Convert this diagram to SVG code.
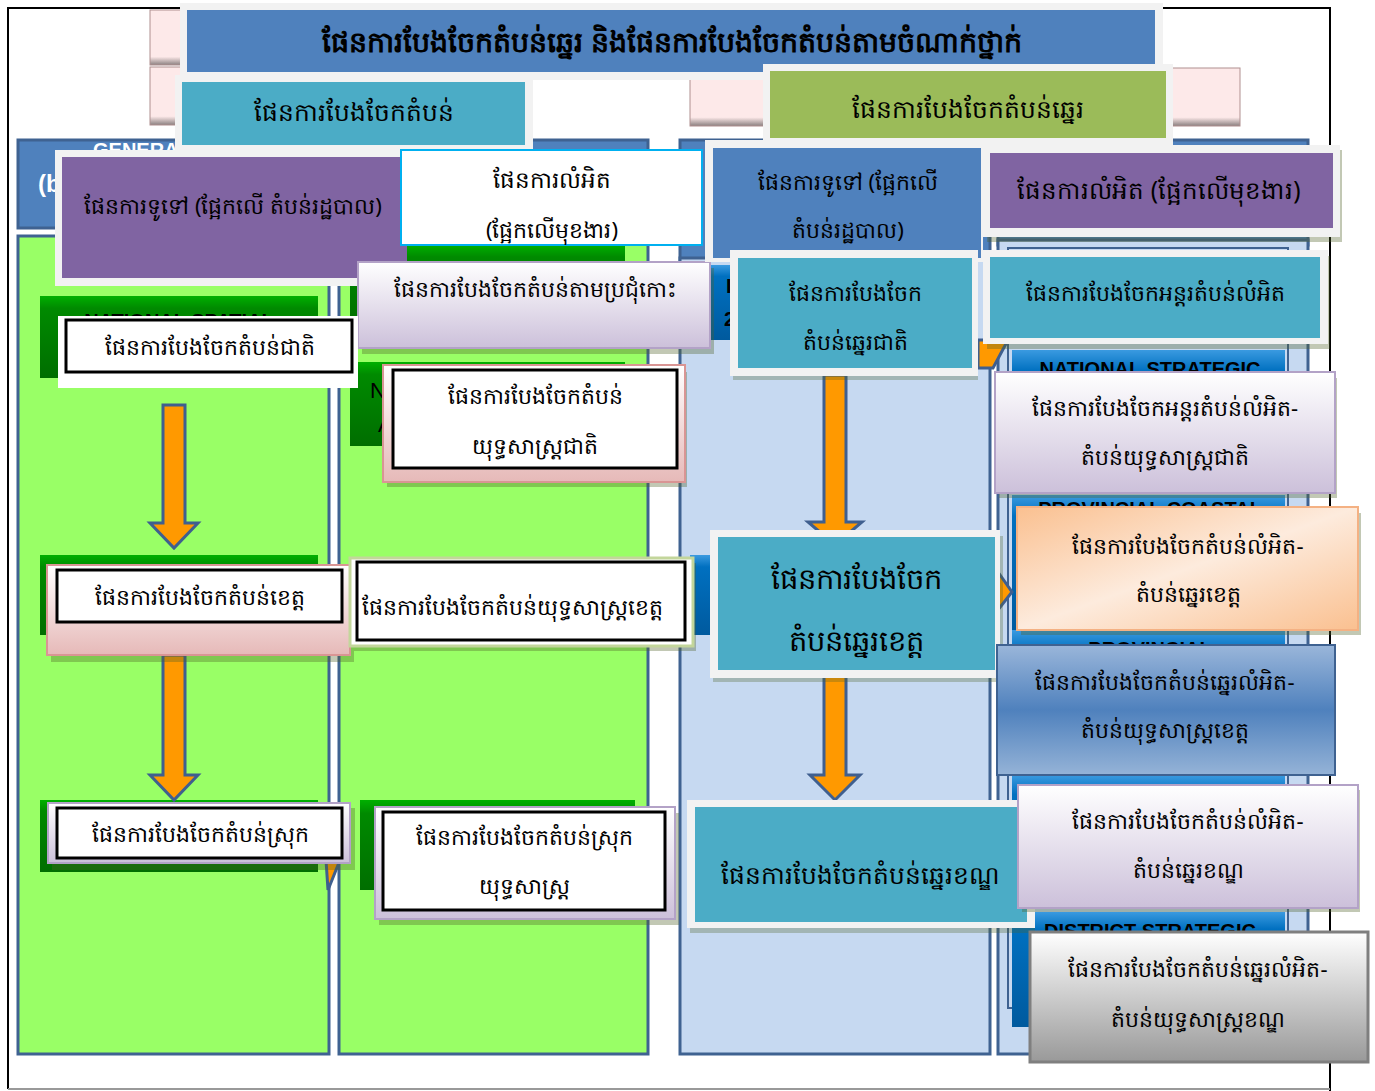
<svg xmlns="http://www.w3.org/2000/svg" width="1375" height="1091" viewBox="0 0 1375 1091">
<defs>
<linearGradient id="lav" x1="0" y1="0" x2="0" y2="1"><stop offset="0" stop-color="#ffffff"/><stop offset="1" stop-color="#ccc0da"/></linearGradient>
<linearGradient id="pink" x1="0" y1="0" x2="0" y2="1"><stop offset="0" stop-color="#ffffff"/><stop offset="1" stop-color="#e6b9b8"/></linearGradient>
<linearGradient id="peach" x1="0" y1="0" x2="1" y2="1"><stop offset="0" stop-color="#fac090"/><stop offset="0.5" stop-color="#fdebdd"/><stop offset="1" stop-color="#fac090"/></linearGradient>
<linearGradient id="blueg" x1="0" y1="0" x2="0" y2="1"><stop offset="0" stop-color="#9ab6da"/><stop offset="0.5" stop-color="#4f81bd"/><stop offset="1" stop-color="#95b3d7"/></linearGradient>
<linearGradient id="grayg" x1="0" y1="0" x2="0" y2="1"><stop offset="0" stop-color="#ffffff"/><stop offset="1" stop-color="#999999"/></linearGradient>
<linearGradient id="greenbev" x1="0" y1="0" x2="0" y2="1"><stop offset="0" stop-color="#00b000"/><stop offset="0.15" stop-color="#008a00"/><stop offset="1" stop-color="#006e00"/></linearGradient>
<linearGradient id="bluebev" x1="0" y1="0" x2="0" y2="1"><stop offset="0" stop-color="#3a9ae0"/><stop offset="0.15" stop-color="#0070c0"/><stop offset="1" stop-color="#005a9e"/></linearGradient>
<linearGradient id="pinkbtn" x1="0" y1="0" x2="0" y2="1"><stop offset="0" stop-color="#fde9e9"/><stop offset="0.85" stop-color="#fde9e9"/><stop offset="1" stop-color="#8a8080"/></linearGradient>
</defs>
<style>
.k{font-family:"Noto Sans","DejaVu Sans",sans-serif;font-size:22px;fill:#000;text-anchor:middle}
.kb{font-family:"Noto Sans","DejaVu Sans",sans-serif;font-size:28.5px;font-weight:bold;fill:#000;text-anchor:middle}
.k25{font-size:25px}
.k29{font-size:29px}
.k23{font-size:23px}
.k245{font-size:24.5px}
.en{font-family:"Liberation Sans",Arial,sans-serif;font-size:20px;font-weight:bold;fill:#000;text-anchor:middle}
.frame{fill:#f2f2f2}
.shadow{fill:#4f6228;opacity:0.35}
.col-g{fill:#99ff66;stroke:#3f6291;stroke-width:3}
.col-b{fill:#c6d9f1;stroke:#3f6291;stroke-width:3}
.hdr{fill:#4f81bd;stroke:#3f6291;stroke-width:3}
.gbev{fill:url(#greenbev)}
.bbev{fill:url(#bluebev)}
.wbox{fill:#fff;stroke:#000;stroke-width:3}
.arrow{fill:#ff9900;stroke:#3f5f8f;stroke-width:3}
</style>

<!-- outer frame -->
<rect x="0" y="0" width="1375" height="1091" fill="#ffffff"/>
<path d="M8 1089 L8 8 L1330 8 L1330 1091" fill="none" stroke="#000" stroke-width="2"/>
<line x1="8" y1="1089" x2="1330" y2="1089" stroke="#999" stroke-width="2"/>

<!-- pink bevel buttons behind header -->
<rect x="150" y="10" width="60" height="55" fill="url(#pinkbtn)" stroke="#b09090"/>
<rect x="150" y="67" width="60" height="58" fill="url(#pinkbtn)" stroke="#b09090"/>
<rect x="690" y="68" width="550" height="58" fill="url(#pinkbtn)" stroke="#b09090"/>

<!-- column backgrounds -->
<g id="columns">
<rect class="hdr" x="18" y="140" width="630" height="88"/>
<text x="38" y="192" font-family="Liberation Sans,sans-serif" font-size="24" font-weight="bold" fill="#fff">(b</text>
<text x="93" y="157" font-family="Liberation Sans,sans-serif" font-size="20" font-weight="bold" fill="#fff">GENERAL</text>
<rect class="col-g" x="18" y="236" width="311" height="818"/>
<rect class="col-g" x="339" y="236" width="309" height="818"/>
<rect class="hdr" x="680" y="140" width="310" height="125"/>
<rect class="col-b" x="680" y="258" width="310" height="796"/>
<rect class="hdr" x="998" y="140" width="310" height="105"/>
<rect class="col-b" x="998" y="240" width="310" height="814"/>
<rect x="1008" y="248" width="280" height="760" fill="#c6d9f1" stroke="#3f6291" stroke-width="2"/>
</g>

<!-- hidden bevel headers -->
<g id="bevels">
<rect class="gbev" x="40" y="296" width="278" height="82"/>
<text class="en" x="179" y="328">NATIONAL SPATIAL</text>
<rect class="gbev" x="40" y="555" width="278" height="80"/>
<rect class="gbev" x="40" y="800" width="278" height="72"/>
<rect class="gbev" x="350" y="245" width="275" height="80"/>
<rect class="gbev" x="350" y="362" width="275" height="84"/>
<text x="370" y="398" font-family="Liberation Sans,sans-serif" font-size="22" fill="#000">N</text>
<text x="378" y="432" font-family="Liberation Sans,sans-serif" font-size="22" fill="#000">A</text>
<rect class="gbev" x="360" y="800" width="275" height="90"/>
<rect class="bbev" x="690" y="555" width="40" height="80"/>
<rect class="bbev" x="705" y="265" width="30" height="75"/>
<text x="726" y="293" font-family="Liberation Sans,sans-serif" font-size="20" font-weight="bold" fill="#000">I</text>
<text x="724" y="326" font-family="Liberation Sans,sans-serif" font-size="20" font-weight="bold" fill="#000">2</text>
<rect class="bbev" x="1012" y="350" width="273" height="140"/>
<text class="en" x="1150" y="376">NATIONAL STRATEGIC</text>
<rect class="bbev" x="1012" y="495" width="273" height="140"/>
<text class="en" x="1150" y="516">PROVINCIAL COASTAL</text>
<rect class="bbev" x="1012" y="630" width="273" height="140"/>
<text class="en" x="1150" y="656">PROVINCIAL</text>
<rect class="bbev" x="1012" y="775" width="273" height="130"/>
<rect class="bbev" x="1012" y="912" width="273" height="115"/>
<text class="en" x="1150" y="938">DISTRICT STRATEGIC</text>
</g>

<!-- connectors -->
<g id="connectors">
<path class="arrow" d="M163 405 H185 V523 H198 L174 548 L150 523 H163 Z"/>
<path class="arrow" d="M163 655 H185 V775 H198 L174 800 L150 775 H163 Z"/>
<path class="arrow" d="M824 375 H846 V522 H862 L835 545 L808 522 H824 Z"/>
<path class="arrow" d="M824 675 H846 V775 H860 L835 800 L810 775 H824 Z"/>
<path class="arrow" d="M978 340 L1008 340 L993 368 L978 368 Z"/>
<path class="arrow" d="M998 572 L1012 592 L998 610 Z"/>
<path class="arrow" d="M326 860 L340 860 L328 890 Z"/>
</g>

<!-- header -->
<g id="title">
<rect class="frame" x="180" y="3" width="983" height="77"/>
<rect x="187" y="10" width="968" height="62" fill="#4f81bd"/>
<text class="kb" x="672" y="52">ផែនការបែងចែកតំបន់ឆ្នេរ និងផែនការបែងចែកតំបន់តាមចំណាក់ថ្នាក់</text>
</g>
<g id="n-zoning">
<rect class="frame" x="175" y="75" width="358" height="75"/>
<rect x="182" y="82" width="343" height="63" fill="#4bacc6"/>
<text class="k k25" x="354" y="121">ផែនការបែងចែកតំបន់</text>
</g>
<g id="n-coastal">
<rect class="shadow" x="770" y="74" width="403" height="78"/>
<rect class="frame" x="763" y="64" width="410" height="82"/>
<rect x="770" y="71" width="396" height="67" fill="#9bbb59"/>
<text class="k k25" x="968" y="118">ផែនការបែងចែកតំបន់ឆ្នេរ</text>
</g>

<!-- column 1/2 nodes -->
<g id="n-general-admin">
<rect class="frame" x="55" y="150" width="352" height="136"/>
<rect x="62" y="157" width="345" height="121" fill="#8064a2"/>
<text class="k" x="233" y="214">ផែនការទូទៅ (ផ្អែកលើ តំបន់រដ្ឋបាល)</text>
</g>
<g id="n-detail-func">
<rect x="401" y="150" width="301" height="95" fill="#fff" stroke="#00b0f0" stroke-width="2"/>
<text class="k k23" x="552" y="188">ផែនការលំអិត</text>
<text class="k" x="552" y="238">(ផ្អែកលើមុខងារ)</text>
</g>
<g id="n-archipelago">
<rect class="shadow" x="362" y="268" width="352" height="86"/>
<rect x="358" y="262" width="352" height="86" fill="url(#lav)" stroke="#b3a2c7" stroke-width="2"/>
<text class="k" x="535" y="297">ផែនការបែងចែកតំបន់តាមប្រជុំកោះ</text>
</g>
<g id="n-national">
<rect x="58" y="316" width="300" height="72" fill="#fff"/>
<rect class="wbox" x="66" y="320" width="286" height="52"/>
<text class="k" x="210" y="355">ផែនការបែងចែកតំបន់ជាតិ</text>
</g>
<g id="n-national-strat">
<rect class="shadow" x="387" y="372" width="300" height="115"/>
<rect x="383" y="365" width="302" height="117" fill="url(#pink)" stroke="#d99594" stroke-width="2"/>
<rect class="wbox" x="393" y="370" width="284" height="98"/>
<text class="k" x="535" y="404">ផែនការបែងចែកតំបន់</text>
<text class="k" x="535" y="454">យុទ្ធសាស្ត្រជាតិ</text>
</g>
<g id="n-province">
<rect class="shadow" x="51" y="570" width="303" height="92"/>
<rect x="47" y="565" width="303" height="90" fill="url(#pink)" stroke="#d99594" stroke-width="2"/>
<rect class="wbox" x="57" y="570" width="285" height="52"/>
<text class="k" x="200" y="605">ផែនការបែងចែកតំបន់ខេត្ត</text>
</g>
<g id="n-province-strat">
<rect class="shadow" x="354" y="563" width="342" height="88"/>
<rect x="350" y="558" width="343" height="88" fill="#fff" stroke="#c3d69b" stroke-width="3"/>
<rect class="wbox" x="357" y="562" width="328" height="78"/>
<text class="k" x="512" y="615">ផែនការបែងចែកតំបន់យុទ្ធសាស្ត្រខេត្ត</text>
</g>
<g id="n-district">
<rect class="shadow" x="52" y="808" width="303" height="62"/>
<rect x="48" y="803" width="302" height="60" fill="url(#lav)" stroke="#b3a2c7" stroke-width="2"/>
<rect class="wbox" x="57" y="808" width="285" height="50"/>
<text class="k" x="200" y="842">ផែនការបែងចែកតំបន់ស្រុក</text>
</g>
<g id="n-district-strat">
<rect class="shadow" x="379" y="813" width="300" height="112"/>
<rect x="375" y="807" width="300" height="112" fill="url(#lav)" stroke="#b3a2c7" stroke-width="2"/>
<rect class="wbox" x="383" y="812" width="282" height="98"/>
<text class="k" x="524" y="845">ផែនការបែងចែកតំបន់ស្រុក</text>
<text class="k" x="524" y="894">យុទ្ធសាស្ត្រ</text>
</g>

<!-- column 3 nodes -->
<g id="n-general-admin-2">
<rect class="frame" x="705" y="140" width="278" height="122"/>
<rect x="713" y="148" width="268" height="110" fill="#4f81bd"/>
<text class="k" x="848" y="190">ផែនការទូទៅ (ផ្អែកលើ</text>
<text class="k" x="848" y="238">តំបន់រដ្ឋបាល)</text>
</g>
<g id="n-coastal-national">
<rect x="733" y="256" width="245" height="124" fill="#4f6228" opacity="0.3"/>
<rect class="frame" x="730" y="250" width="248" height="126"/>
<rect x="738" y="258" width="234" height="110" fill="#4bacc6"/>
<text class="k" x="855" y="301">ផែនការបែងចែក</text>
<text class="k" x="855" y="350">តំបន់ឆ្នេរជាតិ</text>
</g>
<g id="n-coastal-province">
<rect x="713" y="536" width="290" height="146" fill="#4f6228" opacity="0.3"/>
<rect class="frame" x="710" y="530" width="290" height="148"/>
<rect x="718" y="537" width="277" height="133" fill="#4bacc6"/>
<text class="k k29" x="856" y="589">ផែនការបែងចែក</text>
<text class="k k29" x="856" y="651">តំបន់ឆ្នេរខេត្ត</text>
</g>
<g id="n-coastal-district">
<rect x="690" y="806" width="345" height="127" fill="#4f6228" opacity="0.3"/>
<rect class="frame" x="687" y="800" width="348" height="128"/>
<rect x="695" y="807" width="332" height="115" fill="#4bacc6"/>
<text class="k k25" x="860" y="884">ផែនការបែងចែកតំបន់ឆ្នេរខណ្ឌ</text>
</g>

<!-- column 4 nodes -->
<g id="n-detail-func-2">
<rect class="shadow" x="987" y="150" width="355" height="92"/>
<rect class="frame" x="983" y="145" width="357" height="92"/>
<rect x="990" y="153" width="343" height="75" fill="#8064a2"/>
<text class="k k245" x="1159" y="199">ផែនការលំអិត (ផ្អែកលើមុខងារ)</text>
</g>
<g id="n-inter-detail">
<rect class="shadow" x="987" y="256" width="343" height="93"/>
<rect class="frame" x="983" y="250" width="345" height="94"/>
<rect x="990" y="257" width="330" height="81" fill="#4bacc6"/>
<text class="k" x="1155" y="301">ផែនការបែងចែកអន្តរតំបន់លំអិត</text>
</g>
<g id="n-inter-national-strat">
<rect class="shadow" x="999" y="378" width="338" height="120"/>
<rect x="995" y="372" width="340" height="121" fill="url(#lav)" stroke="#b3a2c7" stroke-width="2"/>
<text class="k" x="1165" y="416">ផែនការបែងចែកអន្តរតំបន់លំអិត-</text>
<text class="k" x="1165" y="465">តំបន់យុទ្ធសាស្ត្រជាតិ</text>
</g>
<g id="n-detail-coastal-province">
<rect class="shadow" x="1021" y="513" width="340" height="122"/>
<rect x="1017" y="507" width="341" height="123" fill="url(#peach)" stroke="#f4b183" stroke-width="2"/>
<text class="k" x="1188" y="554">ផែនការបែងចែកតំបន់លំអិត-</text>
<text class="k" x="1188" y="602">តំបន់ឆ្នេរខេត្ត</text>
</g>
<g id="n-coastal-detail-province-strat">
<rect x="997" y="645" width="338" height="130" fill="url(#blueg)" stroke="#3f6291" stroke-width="2"/>
<text class="k" x="1165" y="690">ផែនការបែងចែកតំបន់ឆ្នេរលំអិត-</text>
<text class="k" x="1165" y="738">តំបន់យុទ្ធសាស្ត្រខេត្ត</text>
</g>
<g id="n-detail-coastal-district">
<rect class="shadow" x="1022" y="790" width="338" height="122"/>
<rect x="1018" y="785" width="340" height="123" fill="url(#lav)" stroke="#b3a2c7" stroke-width="2"/>
<text class="k" x="1188" y="829">ផែនការបែងចែកតំបន់លំអិត-</text>
<text class="k" x="1188" y="878">តំបន់ឆ្នេរខណ្ឌ</text>
</g>
<g id="n-coastal-detail-district-strat">
<rect x="1030" y="932" width="338" height="130" fill="url(#grayg)" stroke="#7f7f7f" stroke-width="3"/>
<text class="k" x="1198" y="977">ផែនការបែងចែកតំបន់ឆ្នេរលំអិត-</text>
<text class="k" x="1198" y="1027">តំបន់យុទ្ធសាស្ត្រខណ្ឌ</text>
</g>
</svg>
